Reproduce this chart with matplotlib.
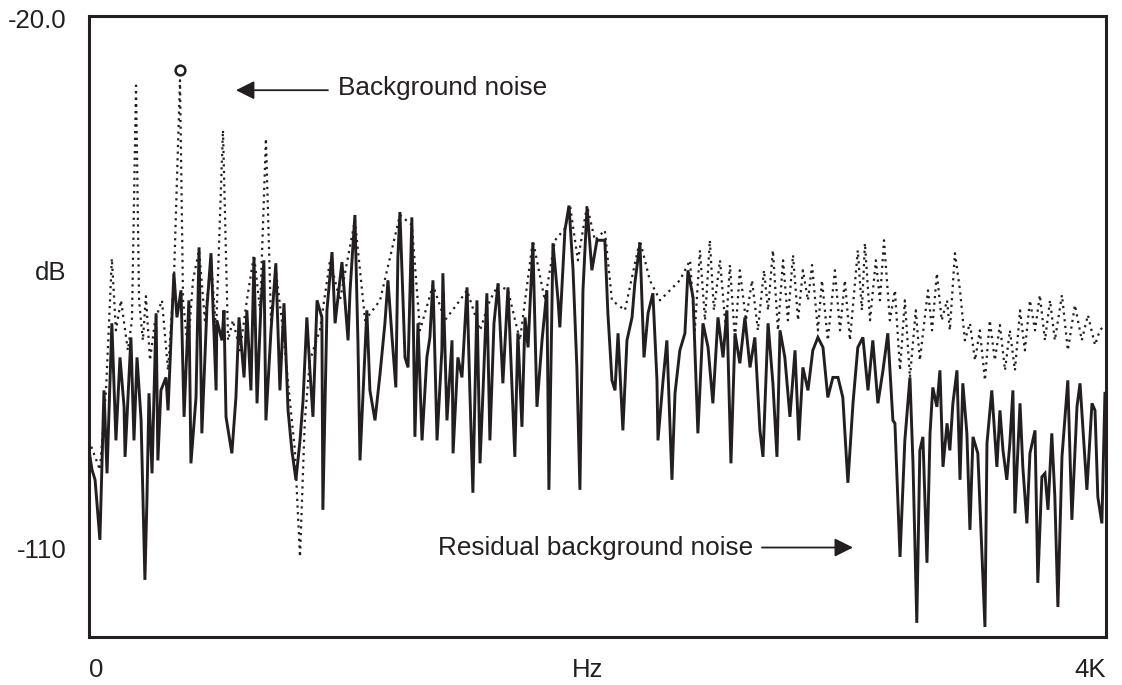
import matplotlib
matplotlib.use("Agg")
import matplotlib.pyplot as plt

# residual background noise (solid trace), Hz / dB
res_hz = [0, 12, 24, 43, 59, 71, 90, 106, 122, 138, 142, 165, 177, 189, 205, 220, 228, 236, 248, 264,
          271, 283, 303, 311, 323, 334, 346, 362, 374, 393, 401, 421, 433, 444, 464, 480, 500, 503, 523, 531,
          539, 562, 578, 590, 610, 621, 637, 649, 661, 676, 688, 696, 716, 735, 751, 767, 783, 798,
          814, 830, 842, 857, 869, 881, 897, 916, 920, 936, 956, 968, 995, 1019, 1027, 1046, 1058, 1066,
          1093, 1105, 1125, 1145, 1164, 1176, 1192, 1207, 1215, 1223, 1243, 1255, 1270, 1282, 1294, 1310,
          1329, 1341, 1353, 1369, 1388, 1392, 1408, 1428, 1432, 1451, 1467, 1487, 1498, 1510, 1526, 1538,
          1550, 1565, 1577,
          1593, 1609, 1628, 1648, 1675, 1687, 1703, 1715, 1727, 1746, 1762, 1782, 1801, 1809, 1825, 1845,
          1852, 1872, 1888, 1904, 1919, 1931, 1943, 1959, 1978, 1998, 2029, 2041, 2057, 2069, 2081, 2100,
          2116, 2136, 2147, 2167, 2183, 2199, 2218, 2234, 2238, 2258, 2273, 2293, 2305, 2324, 2344, 2356,
          2376,
          2395, 2415, 2435, 2454, 2474, 2494, 2509, 2525, 2541, 2560, 2580, 2600, 2619, 2639, 2651, 2671,
          2690, 2706, 2718, 2737, 2757, 2777, 2792, 2808, 2828, 2847, 2867, 2887, 2906, 2926, 2946, 2965,
          2985, 3005, 3024, 3044, 3064, 3083, 3103, 3123, 3142, 3162,
          3170, 3190, 3209, 3229, 3241, 3256, 3268, 3280, 3296, 3308, 3319, 3335, 3347, 3359, 3375, 3386,
          3398, 3414, 3426, 3437, 3453, 3465, 3477, 3496, 3512, 3524, 3532, 3551, 3571, 3583, 3595, 3610,
          3622, 3634, 3642, 3662, 3673, 3689, 3701, 3721, 3732, 3748, 3760, 3772, 3787, 3799, 3811, 3827,
          3839, 3850, 3866, 3886, 3898, 3925, 3945, 3957, 3968, 3984, 3996]
res_db = [-93.4, -96.7, -98.4, -108.6, -83.2, -97.3, -71.8, -91.7, -77.6, -86.0, -94.5, -74.2, -91.7, -77.6,
          -88.3, -115.4, -101.8, -83.7, -97.3, -70.1,
          -95.1, -83.2, -81.0, -86.6, -74.2, -63.3, -70.8, -66.2, -87.7, -67.9, -95.6, -84.4, -58.9, -90.5,
          -69.1, -59.9, -83.2, -71.3, -74.7, -69.6,
          -87.7, -93.9, -84.4, -70.8, -81.0, -69.6, -83.2, -60.6, -85.4, -69.1, -61.1, -88.3, -73.0, -61.6,
          -83.2, -68.4, -86.6, -93.4,
          -98.4, -91.7, -84.9, -70.8, -79.8, -87.7, -67.9, -70.8, -103.5, -69.6, -59.7, -71.8, -61.4, -74.7,
          -66.2, -53.4, -75.2, -95.1,
          -69.6, -83.2, -88.3, -80.3, -71.8, -64.5, -74.2, -82.7, -60.6, -52.9, -77.6, -79.3, -53.8, -91.1,
          -71.8, -91.7,
          -77.6, -74.2, -64.5, -91.7, -76.4, -63.3, -88.3, -74.7, -93.9, -77.6, -81.0, -65.7, -83.2, -100.6,
          -67.9, -95.6,
          -83.2, -66.7, -91.7,
          -71.8, -65.0, -82.0, -65.7, -94.5, -73.5, -89.4, -70.8, -75.9, -58.2, -86.0, -74.7, -66.2, -100.1,
          -58.2, -67.9,
          -72.5, -56.0, -51.8, -62.8, -79.3, -100.1, -66.2, -52.1, -62.8, -57.7, -57.7, -70.1, -81.5, -83.2,
          -73.5, -90.0,
          -74.7, -70.8, -65.0, -58.2, -77.6, -70.1, -66.7, -81.5, -91.7, -81.5, -74.7, -98.4, -83.7, -76.4,
          -73.5, -62.8,
          -67.4,
          -90.5, -71.8, -75.9, -85.4, -70.8, -77.6, -69.6, -95.6, -73.5, -78.6, -70.8, -79.3, -74.2, -90.0,
          -94.5, -71.8,
          -82.0, -94.5, -73.0, -77.6, -87.7, -76.4, -91.7, -79.3, -83.2, -76.4, -74.2, -75.9, -84.4, -81.0,
          -81.0, -84.4,
          -98.9, -85.4, -75.9, -74.2, -83.2, -74.7, -85.4, -79.8, -73.5, -88.3,
          -88.8, -111.5, -91.7, -81.0, -95.6, -122.7, -93.4, -91.1, -112.5, -90.5, -82.7, -86.0, -79.8, -96.2,
          -88.8, -93.4,
          -85.4, -79.8, -98.4, -82.0, -90.5, -106.9, -91.1, -93.9, -110.8, -123.4, -92.2, -83.2, -96.2, -86.6,
          -93.4, -98.4,
          -92.2, -83.2, -104.1, -85.4, -96.2, -105.8, -93.9, -90.0, -115.9, -97.9, -97.3, -103.5, -90.5,
          -101.3, -120.0, -94.5,
          -87.7, -81.5, -105.2, -86.0, -82.0, -100.1, -85.4, -86.6, -101.3, -105.8, -83.7]

# background noise (dotted trace)
bg_hz = [0, 43, 67, 90, 106, 126, 153, 169, 185, 197, 212, 224, 240, 260, 287, 311, 334, 358, 370, 389,
         409, 433, 456, 480, 500, 527, 547, 566, 594, 621, 649, 673, 696, 716, 735, 763, 790, 810, 830, 849,
         869, 908, 948, 987, 1046, 1086, 1145, 1223, 1270, 1302, 1353, 1400, 1459, 1487, 1538, 1577, 1609,
         1648, 1695, 1746, 1793, 1833, 1872, 1892, 1923, 1959, 1990, 2029, 2057, 2108, 2167, 2206, 2246,
         2285, 2324,
         2364, 2383, 2403, 2423, 2442, 2458, 2482, 2505, 2521, 2541, 2560, 2584, 2608, 2631, 2655, 2671,
         2690, 2710, 2730, 2749, 2769, 2789, 2808, 2828, 2844, 2867, 2883, 2906, 2934, 2954, 2973, 2993,
         3024, 3040, 3052, 3072, 3095, 3111, 3127, 3150, 3170, 3190, 3209, 3229, 3252, 3268, 3300, 3316,
         3335, 3354, 3375, 3386, 3406, 3426, 3445, 3465, 3485, 3504, 3524, 3543, 3563, 3583, 3603, 3622,
         3642, 3662, 3681, 3701, 3721, 3740, 3760, 3780, 3799, 3827, 3850, 3878, 3905, 3929, 3957, 3976,
         3996]
bg_db = [-91.7, -96.7, -83.2, -60.8, -73.0, -67.9, -76.4, -71.3, -31.4, -67.9, -74.7, -67.2, -78.1, -71.3,
         -67.9, -79.8, -64.5, -30.5, -67.9, -76.4,
         -64.5, -59.4, -71.3, -61.1, -73.0, -39.0, -74.7, -71.3, -76.4, -67.9, -60.2, -69.6, -40.4, -71.3,
         -62.8, -73.0, -84.9, -93.4, -111.5, -88.3,
         -78.1, -73.0, -61.1, -67.9, -54.3, -71.3, -67.9, -53.4, -55.1, -73.0, -65.3, -71.3, -67.9, -66.2,
         -73.0, -67.9, -65.3,
         -66.2, -74.7, -57.7, -67.9, -57.7, -55.7, -51.8, -61.1, -51.8, -57.7, -56.0, -67.9, -69.6, -57.7,
         -64.5, -67.9,
         -66.2, -64.5,
         -61.1, -73.0, -59.4, -71.3, -57.7, -69.6, -61.1, -73.0, -61.9, -74.7, -62.8, -71.3, -64.5, -73.0,
         -62.8, -69.6,
         -59.4, -73.0, -61.1, -71.3, -60.2, -71.3, -62.8, -67.9, -61.9, -73.0, -64.5, -74.7, -62.8, -73.0,
         -64.5, -74.7,
         -59.4, -69.6, -58.2, -71.3, -61.1, -67.9, -57.7, -71.3, -66.2, -79.8, -67.9, -81.0, -69.6, -78.1,
         -66.2, -73.0,
         -63.3, -71.3, -67.9, -73.0, -59.9, -66.2, -74.7, -71.8, -78.1, -73.0, -81.5, -71.3, -78.1, -72.1,
         -79.8, -73.0,
         -79.8, -69.6, -76.4, -67.9, -73.0, -67.0, -74.7, -67.9, -74.7, -67.0, -76.4, -68.7, -74.7, -70.4,
         -75.5, -73.0,
         -72.1]

# small open circle on top of the tallest hum line
peak_hz = [358]
peak_db = [-28.8]

ink = "#231f20"

fig = plt.figure(figsize=(11.22, 6.85), dpi=100)
ax = fig.add_axes([0.0793, 0.0701, 0.9064, 0.9065])

ax.plot(bg_hz, bg_db, color=ink, lw=1.6, ls=(0, (1, 2)))
ax.plot(res_hz, res_db, color=ink, lw=2.1, solid_joinstyle="miter")
ax.plot(peak_hz, peak_db, marker="o", ms=7, mfc="white", mec=ink, mew=1.8, ls="none")

ax.set_xlim(0, 4000)
ax.set_ylim(-125.1, -19.6)

ax.set_xticks([0, 1960, 4000], ["0", "Hz", "4K"])
ax.set_yticks([-20, -62.8, -110], ["-20.0", "dB", "-110"])
ax.tick_params(length=0, labelsize=18.5, labelcolor=ink)
ax.tick_params(axis="y", pad=16)
ax.tick_params(axis="x", pad=15)
xl = ax.get_xticklabels()
xl[0].set_ha("left")
xl[2].set_ha("right")
for lab in ax.get_xticklabels() + ax.get_yticklabels():
    lab.set_fontfamily("Liberation Sans")

for s in ax.spines.values():
    s.set_linewidth(2.2)
    s.set_color(ink)

ax.annotate("", xy=(578, -32.2), xytext=(940, -32.2),
            arrowprops=dict(arrowstyle="-|>", mutation_scale=28, lw=1.3, color=ink, shrinkA=0, shrinkB=0))
ax.text(979, -31.9, "Background noise", fontsize=18.8, family="Liberation Sans", color=ink,
        va="center", ha="left")

ax.text(1373, -109.9, "Residual background noise", fontsize=18.8, family="Liberation Sans", color=ink,
        va="center", ha="left")
ax.annotate("", xy=(3005, -109.9), xytext=(2647, -109.9),
            arrowprops=dict(arrowstyle="-|>", mutation_scale=28, lw=1.3, color=ink, shrinkA=0, shrinkB=0))

fig.savefig("out.png", dpi=100)
